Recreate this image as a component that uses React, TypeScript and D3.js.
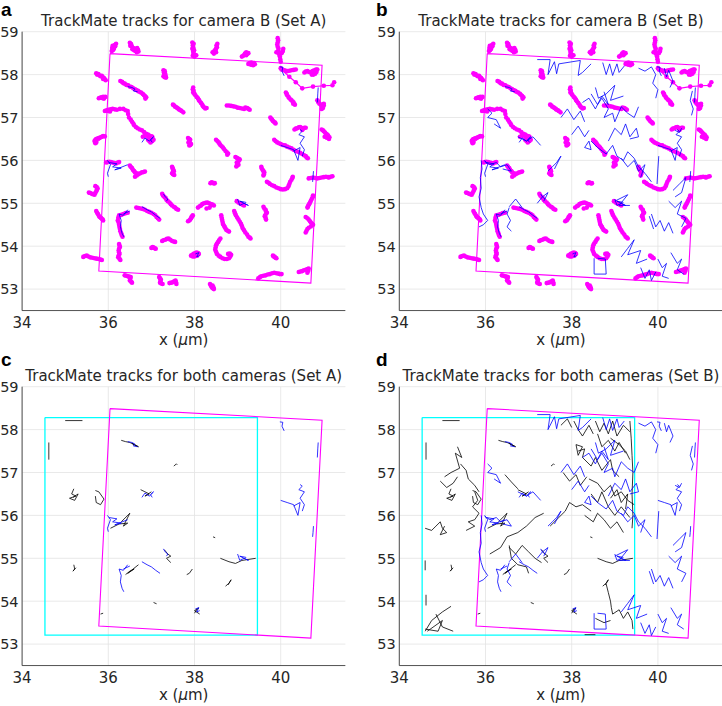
import React from 'react';
import * as d3 from 'd3';

type Pt = [number, number];
type Track = Pt[];

const xTicks = [34, 36, 38, 40];
const yTicks = [53, 54, 55, 56, 57, 58, 59];
const xDomain: [number, number] = [34, 41.5];
const yDomain: [number, number] = [52.5, 59];

const panelLetters = ['a', 'b', 'c', 'd'];
const panelTitles = [
  'TrackMate tracks for camera B (Set A)',
  'TrackMate tracks for camera B (Set B)',
  'TrackMate tracks for both cameras (Set A)',
  'TrackMate tracks for both cameras (Set B)',
];

const camBOutline: Track = [[36.04, 58.49], [40.96, 58.22], [40.7, 53.14], [35.78, 53.42], [36.04, 58.49]];
const camAOutline: Track = [[34.53, 58.28], [39.46, 58.28], [39.46, 53.21], [34.53, 53.21], [34.53, 58.28]];

// camera B tracks (magenta, with spots)
const magentaTracks: Track[] = [
  [[36.08, 58.55], [36.11, 58.58], [36.09, 58.62], [36.13, 58.64], [36.1, 58.67], [36.15, 58.69], [36.18, 58.72], [36.16, 58.66], [36.13, 58.6], [36.1, 58.57]],
  [[36.5, 58.74], [36.53, 58.71], [36.51, 58.67], [36.55, 58.65], [36.58, 58.62], [36.56, 58.59], [36.6, 58.57], [36.64, 58.6], [36.67, 58.62], [36.69, 58.58], [36.7, 58.54], [36.66, 58.52], [36.63, 58.55]],
  [[37.95, 58.75], [37.98, 58.72], [37.96, 58.68], [37.97, 58.64], [37.95, 58.6], [37.99, 58.57], [37.97, 58.53], [37.98, 58.49], [38.01, 58.46], [38.0, 58.42], [38.04, 58.45], [37.96, 58.44]],
  [[38.53, 58.72], [38.51, 58.68], [38.52, 58.64], [38.5, 58.6], [38.48, 58.57], [38.45, 58.54], [38.42, 58.52], [38.45, 58.49], [38.5, 58.52], [38.47, 58.55]],
  [[39.1, 58.42], [39.13, 58.44], [39.16, 58.46], [39.2, 58.45], [39.22, 58.48], [39.25, 58.5], [39.2, 58.52], [39.17, 58.49]],
  [[39.93, 58.85], [39.94, 58.8], [39.93, 58.75], [39.92, 58.7], [39.93, 58.65], [39.95, 58.6], [39.94, 58.55], [39.9, 58.52], [39.95, 58.5], [39.97, 58.46], [40.02, 58.5], [40.05, 58.55], [40.06, 58.6], [40.03, 58.52], [39.98, 58.42], [39.99, 58.36], [40.0, 58.3]],
  [[39.25, 58.25], [39.28, 58.27], [39.32, 58.28], [39.35, 58.25], [39.38, 58.27], [39.4, 58.24], [39.36, 58.22], [39.31, 58.23]],
  [[35.72, 58.03], [35.74, 58.0], [35.77, 58.01], [35.8, 57.98], [35.82, 57.96], [35.85, 57.97], [35.87, 57.94], [35.9, 57.92], [35.92, 57.89], [35.88, 57.9], [35.94, 57.87]],
  [[37.28, 58.1], [37.31, 58.08], [37.29, 58.05], [37.32, 58.02], [37.3, 57.99], [37.28, 57.96], [37.31, 57.94], [37.34, 57.93], [37.33, 57.97]],
  [[36.28, 57.85], [36.32, 57.83], [36.35, 57.8], [36.38, 57.79], [36.42, 57.76], [36.46, 57.75], [36.5, 57.72], [36.54, 57.71], [36.58, 57.68], [36.62, 57.66], [36.65, 57.64], [36.69, 57.62], [36.72, 57.6], [36.76, 57.58], [36.8, 57.55], [36.83, 57.52], [36.85, 57.5], [36.88, 57.47], [36.86, 57.44]],
  [[35.78, 57.45], [35.81, 57.46], [35.84, 57.47], [35.87, 57.45], [35.9, 57.44], [35.93, 57.48], [35.88, 57.48]],
  [[37.97, 57.7], [37.96, 57.66], [37.98, 57.62], [37.97, 57.58], [38.0, 57.55], [38.02, 57.52], [38.05, 57.48], [38.08, 57.45], [38.1, 57.41], [38.12, 57.38], [38.15, 57.34], [38.18, 57.3], [38.2, 57.26], [38.22, 57.24], [38.25, 57.21], [38.28, 57.22]],
  [[37.5, 57.3], [37.53, 57.28], [37.55, 57.25], [37.58, 57.24], [37.6, 57.22], [37.63, 57.2], [37.65, 57.18], [37.68, 57.17], [37.7, 57.15], [37.74, 57.12]],
  [[38.75, 57.28], [38.8, 57.28], [38.85, 57.27], [38.9, 57.26], [38.95, 57.25], [39.0, 57.23], [39.05, 57.22], [39.1, 57.21], [39.15, 57.2], [39.18, 57.23], [39.22, 57.22], [39.25, 57.2], [39.28, 57.18]],
  [[40.12, 57.58], [40.14, 57.55], [40.15, 57.52], [40.18, 57.48], [40.2, 57.45], [40.23, 57.42], [40.25, 57.4], [40.28, 57.37], [40.3, 57.35], [40.33, 57.3], [40.29, 57.32]],
  [[40.55, 58.05], [40.58, 58.07], [40.62, 58.08], [40.66, 58.06], [40.7, 58.06], [40.74, 58.08], [40.78, 58.1], [40.82, 58.12], [40.85, 58.12], [40.83, 58.06], [40.8, 58.02], [40.76, 58.0], [40.72, 58.0]],
  [[40.0, 58.15], [40.04, 58.12], [40.08, 58.1], [40.12, 58.09], [40.15, 58.08], [40.2, 58.09], [40.25, 58.1], [40.3, 58.11], [40.35, 58.12]],
  [[40.02, 58.12], [40.2, 57.95], [40.35, 57.82], [40.5, 57.68], [40.75, 57.72], [41.0, 57.74], [41.2, 57.75], [41.24, 57.82]],
  [[40.85, 57.4], [40.87, 57.37], [40.88, 57.35], [40.9, 57.32], [40.93, 57.3], [40.95, 57.27], [40.97, 57.25], [40.95, 57.2], [40.98, 57.22], [41.0, 57.28], [41.0, 57.32]],
  [[35.92, 57.15], [35.95, 57.16], [35.98, 57.17], [36.01, 57.15], [36.04, 57.14]],
  [[36.0, 57.18], [36.05, 57.19], [36.1, 57.2], [36.15, 57.19], [36.2, 57.18], [36.27, 57.2], [36.35, 57.2], [36.4, 57.17], [36.45, 57.15], [36.46, 57.08], [36.48, 57.0], [36.52, 56.95], [36.55, 56.9], [36.58, 56.86], [36.6, 56.82], [36.64, 56.78], [36.68, 56.75], [36.73, 56.72], [36.78, 56.7], [36.83, 56.66], [36.88, 56.62], [36.92, 56.6], [36.95, 56.58], [37.0, 56.56], [37.02, 56.55]],
  [[39.76, 57.0], [39.78, 56.97], [39.8, 56.95], [39.82, 56.92], [39.84, 56.9], [39.87, 56.88], [39.88, 56.86]],
  [[40.32, 56.72], [40.35, 56.74], [40.38, 56.75], [40.42, 56.77], [40.45, 56.78], [40.48, 56.76], [40.52, 56.74], [40.55, 56.76], [40.58, 56.76], [40.5, 56.71]],
  [[40.95, 56.72], [40.98, 56.7], [41.0, 56.68], [41.03, 56.65], [41.05, 56.62], [41.08, 56.6], [41.1, 56.58], [41.13, 56.54], [41.12, 56.5], [41.07, 56.53], [41.02, 56.55]],
  [[35.68, 56.45], [35.7, 56.48], [35.72, 56.5], [35.75, 56.51], [35.78, 56.52], [35.82, 56.54], [35.85, 56.55], [35.88, 56.57], [35.92, 56.56], [35.72, 56.42], [35.7, 56.4]],
  [[36.8, 56.55], [36.84, 56.57], [36.88, 56.58], [36.92, 56.57], [36.95, 56.56], [36.99, 56.54], [37.02, 56.52], [37.05, 56.48], [37.02, 56.45], [36.98, 56.42], [36.95, 56.45], [36.92, 56.48]],
  [[37.85, 56.52], [37.88, 56.5], [37.9, 56.48], [37.88, 56.45], [37.86, 56.42], [37.9, 56.4], [37.92, 56.38], [37.9, 56.36], [37.88, 56.35]],
  [[38.5, 56.48], [38.53, 56.45], [38.56, 56.42], [38.58, 56.39], [38.6, 56.36], [38.63, 56.33], [38.66, 56.3], [38.69, 56.26], [38.72, 56.22], [38.75, 56.19], [38.78, 56.16], [38.76, 56.13]],
  [[38.95, 56.08], [38.98, 56.06], [39.0, 56.05], [39.03, 56.03], [39.05, 56.02], [39.02, 55.98], [38.98, 55.95], [39.0, 55.92], [39.02, 55.9], [38.99, 55.88], [38.97, 55.86]],
  [[39.85, 56.48], [39.88, 56.45], [39.92, 56.42], [39.96, 56.4], [40.0, 56.38], [40.05, 56.36], [40.1, 56.35], [40.15, 56.32], [40.2, 56.3], [40.25, 56.28], [40.3, 56.25], [40.35, 56.22], [40.4, 56.2], [40.45, 56.18], [40.5, 56.15], [40.54, 56.12], [40.58, 56.1], [40.6, 56.07], [40.63, 56.05]],
  [[39.55, 55.85], [39.56, 55.81], [39.58, 55.78], [39.6, 55.75], [39.62, 55.72], [39.61, 55.68], [39.6, 55.65]],
  [[39.68, 55.5], [39.72, 55.48], [39.75, 55.45], [39.8, 55.42], [39.85, 55.4], [39.9, 55.37], [39.95, 55.35], [40.0, 55.33], [40.05, 55.32], [40.1, 55.33], [40.15, 55.35], [40.18, 55.4], [40.2, 55.45], [40.22, 55.5], [40.25, 55.55], [40.27, 55.59], [40.28, 55.62]],
  [[35.95, 55.95], [35.98, 55.96], [36.02, 55.97], [36.06, 55.96], [36.1, 55.95], [36.14, 55.94], [36.18, 55.93], [36.22, 55.95], [36.25, 55.96]],
  [[36.5, 55.88], [36.52, 55.85], [36.55, 55.82], [36.57, 55.78], [36.6, 55.75], [36.62, 55.72], [36.65, 55.7], [36.68, 55.69], [36.7, 55.68], [36.74, 55.7], [36.78, 55.72], [36.82, 55.73], [36.85, 55.74], [36.66, 55.65], [36.62, 55.62]],
  [[37.48, 55.85], [37.49, 55.82], [37.5, 55.8], [37.51, 55.77], [37.52, 55.75], [37.5, 55.72], [37.48, 55.7], [37.5, 55.68], [37.53, 55.66]],
  [[38.37, 55.47], [38.4, 55.49], [38.42, 55.48], [38.45, 55.46], [38.47, 55.47]],
  [[40.65, 55.58], [40.7, 55.59], [40.75, 55.6], [40.8, 55.59], [40.85, 55.58], [40.9, 55.59], [40.95, 55.6], [41.0, 55.61], [41.05, 55.62], [41.1, 55.61], [41.12, 55.6], [41.16, 55.62], [41.2, 55.63]],
  [[35.55, 55.25], [35.58, 55.24], [35.62, 55.22], [35.65, 55.21], [35.68, 55.2], [35.7, 55.24], [35.72, 55.28], [35.74, 55.32], [35.75, 55.35], [35.73, 55.38], [35.7, 55.4]],
  [[37.25, 55.22], [37.27, 55.18], [37.3, 55.15], [37.33, 55.12], [37.35, 55.08], [37.38, 55.05], [37.42, 55.02], [37.45, 54.98], [37.48, 54.95], [37.52, 54.92], [37.55, 54.9], [37.58, 54.87], [37.62, 54.85]],
  [[38.08, 54.9], [38.12, 54.93], [38.15, 54.95], [38.18, 54.98], [38.22, 55.0], [38.26, 55.01], [38.3, 55.02], [38.34, 55.0], [38.38, 54.98], [38.42, 54.97], [38.45, 54.95], [38.35, 54.9], [38.28, 54.88]],
  [[38.98, 55.05], [39.02, 55.02], [39.05, 55.0], [39.08, 54.99], [39.1, 54.98], [39.13, 54.96], [39.15, 54.95]],
  [[39.6, 54.92], [39.62, 54.88], [39.65, 54.85], [39.66, 54.81], [39.68, 54.78], [39.65, 54.74], [39.63, 54.7], [39.65, 54.66], [39.66, 54.62]],
  [[40.75, 55.18], [40.74, 55.14], [40.72, 55.1], [40.7, 55.06], [40.68, 55.02], [40.66, 54.98], [40.64, 54.95], [40.63, 54.92], [40.62, 54.9]],
  [[35.72, 54.82], [35.74, 54.78], [35.76, 54.75], [35.78, 54.71], [35.8, 54.68], [35.83, 54.66], [35.85, 54.64], [35.87, 54.62], [35.88, 54.6]],
  [[36.45, 54.78], [36.4, 54.77], [36.35, 54.75], [36.3, 54.73], [36.25, 54.72], [36.23, 54.66], [36.22, 54.6], [36.24, 54.55], [36.25, 54.5], [36.26, 54.45], [36.27, 54.4], [36.28, 54.35], [36.3, 54.3], [36.31, 54.26], [36.33, 54.22]],
  [[36.65, 54.9], [36.7, 54.89], [36.75, 54.88], [36.8, 54.87], [36.85, 54.85], [36.9, 54.82], [36.95, 54.8], [37.0, 54.78], [37.05, 54.75], [37.09, 54.72], [37.12, 54.68], [37.15, 54.65], [37.18, 54.62]],
  [[37.85, 54.58], [37.88, 54.6], [37.9, 54.62], [37.92, 54.65], [37.93, 54.68], [37.95, 54.7], [37.96, 54.72]],
  [[38.62, 54.72], [38.63, 54.67], [38.64, 54.62], [38.65, 54.57], [38.66, 54.52], [38.68, 54.48], [38.7, 54.45], [38.72, 54.41], [38.74, 54.38], [38.77, 54.36], [38.8, 54.34]],
  [[38.92, 54.82], [38.94, 54.77], [38.96, 54.72], [38.99, 54.67], [39.02, 54.62], [39.05, 54.57], [39.08, 54.52], [39.1, 54.47], [39.12, 54.42], [39.15, 54.37], [39.18, 54.32], [39.22, 54.27], [39.25, 54.22], [39.28, 54.2], [39.3, 54.18]],
  [[40.58, 54.68], [40.62, 54.65], [40.65, 54.62], [40.68, 54.58], [40.7, 54.55], [40.73, 54.52], [40.75, 54.5], [40.7, 54.46], [40.65, 54.43], [40.62, 54.4], [40.6, 54.36], [40.58, 54.32]],
  [[36.25, 54.05], [36.26, 54.01], [36.27, 53.98], [36.25, 53.94], [36.24, 53.9], [36.25, 53.86], [36.26, 53.82], [36.24, 53.78], [36.23, 53.74], [36.26, 53.71], [36.28, 53.68]],
  [[37.0, 53.96], [37.03, 53.98], [37.05, 53.97], [37.08, 53.95], [37.1, 53.94]],
  [[37.25, 54.12], [37.28, 54.14], [37.32, 54.15], [37.36, 54.17], [37.4, 54.18], [37.44, 54.15], [37.48, 54.12], [37.52, 54.11], [37.55, 54.1]],
  [[37.92, 53.78], [37.95, 53.8], [37.98, 53.82], [38.02, 53.84], [38.05, 53.85], [38.08, 53.84], [38.1, 53.82], [38.06, 53.78], [38.0, 53.76], [37.96, 53.76]],
  [[38.6, 54.18], [38.57, 54.14], [38.55, 54.1], [38.52, 54.06], [38.5, 54.02], [38.49, 53.97], [38.48, 53.92], [38.5, 53.87], [38.52, 53.82], [38.56, 53.78], [38.6, 53.75], [38.65, 53.72], [38.7, 53.7], [38.75, 53.7], [38.8, 53.72], [38.83, 53.76], [38.85, 53.8], [38.82, 53.83], [38.78, 53.82]],
  [[39.82, 53.78], [39.84, 53.76], [39.86, 53.75], [39.88, 53.73], [39.9, 53.72]],
  [[35.42, 53.75], [35.46, 53.77], [35.5, 53.78], [35.54, 53.76], [35.58, 53.74], [35.63, 53.73], [35.68, 53.72], [35.73, 53.71], [35.78, 53.7], [35.82, 53.69], [35.85, 53.68]],
  [[36.38, 53.32], [36.42, 53.31], [36.45, 53.3], [36.48, 53.29], [36.52, 53.28], [36.51, 53.24], [36.5, 53.2], [36.53, 53.17], [36.55, 53.15]],
  [[37.18, 53.28], [37.2, 53.25], [37.22, 53.22], [37.21, 53.18], [37.2, 53.15], [37.23, 53.13], [37.26, 53.12]],
  [[37.42, 53.14], [37.46, 53.15], [37.5, 53.16], [37.53, 53.18], [37.56, 53.2], [37.57, 53.16], [37.58, 53.12]],
  [[38.36, 53.12], [38.38, 53.08], [38.4, 53.05], [38.42, 53.02], [38.45, 53.0], [38.44, 53.04], [38.42, 53.08]],
  [[39.48, 53.25], [39.52, 53.28], [39.55, 53.3], [39.6, 53.31], [39.65, 53.32], [39.7, 53.34], [39.75, 53.35], [39.8, 53.37], [39.85, 53.38], [39.9, 53.37], [39.95, 53.36], [39.98, 53.35], [40.02, 53.35]],
  [[40.42, 53.4], [40.46, 53.41], [40.5, 53.42], [40.54, 53.44], [40.58, 53.45], [40.62, 53.47], [40.65, 53.48], [40.64, 53.43], [40.62, 53.38]],
];

// blue tracks, Set A
const blueTracksSetA: Track[] = [
  [[36.45, 57.72], [36.55, 57.7], [36.62, 57.66], [36.58, 57.62], [36.68, 57.6]],
  [[36.78, 56.42], [36.85, 56.52], [36.95, 56.45], [37.05, 56.55], [36.98, 56.48], [37.02, 56.42]],
  [[35.98, 56.0], [36.05, 55.9], [35.98, 55.7], [36.0, 55.62]],
  [[36.02, 55.95], [36.2, 55.92], [36.1, 55.85], [36.3, 55.82], [36.15, 55.78], [36.45, 55.9]],
  [[36.45, 54.85], [36.35, 54.72], [36.25, 54.75], [36.3, 54.6], [36.28, 54.45], [36.32, 54.3], [36.36, 54.22]],
  [[36.35, 54.75], [36.5, 54.82]],
  [[36.78, 54.92], [36.9, 54.85], [37.0, 54.8], [37.1, 54.72], [37.2, 54.65]],
  [[37.28, 55.22], [37.32, 55.15], [37.38, 55.1], [37.35, 55.05]],
  [[39.0, 55.1], [39.05, 54.95], [39.15, 55.0], [39.25, 54.95], [39.05, 55.05], [39.2, 55.02]],
  [[40.45, 56.72], [40.5, 56.68], [40.42, 56.6], [40.55, 56.55], [40.45, 56.4], [40.55, 56.25], [40.5, 56.1]],
  [[40.0, 56.35], [40.15, 56.3], [40.3, 56.25], [40.4, 56.0], [40.45, 56.3], [40.3, 56.22]],
  [[39.98, 58.18], [40.05, 58.17], [40.03, 58.08], [40.08, 57.97]],
  [[40.87, 57.7], [40.86, 57.55], [40.85, 57.35]],
  [[40.76, 55.75], [40.75, 55.6], [40.74, 55.5]],
  [[38.02, 53.82], [38.1, 53.85], [38.05, 53.75], [38.12, 53.78]],
];

// additional blue tracks, Set B
const blueTracksSetBExtra: Track[] = [
  [[37.2, 58.35], [37.5, 58.35], [37.45, 58.0], [37.6, 58.3], [37.65, 58.02], [37.7, 58.25], [38.2, 58.33], [38.15, 57.98], [38.25, 58.05], [38.45, 58.25]],
  [[38.72, 58.28], [38.8, 58.0], [38.88, 58.25], [38.95, 57.98], [39.05, 58.25], [39.1, 58.05], [39.22, 58.2]],
  [[39.55, 58.15], [39.7, 58.08], [39.85, 58.18], [39.95, 58.0], [39.88, 57.8], [40.0, 57.65], [39.95, 57.45]],
  [[40.15, 58.15], [40.2, 57.95], [40.25, 58.1], [40.35, 57.85], [40.28, 57.7]],
  [[40.8, 57.62], [40.75, 57.4], [40.82, 57.2], [40.78, 57.05]],
  [[38.45, 57.55], [38.6, 57.3], [38.7, 57.45], [38.85, 57.2], [38.75, 57.0], [38.95, 57.1], [39.0, 56.9], [39.15, 57.25], [39.3, 57.1], [39.45, 57.0], [39.55, 57.25]],
  [[38.55, 57.7], [38.62, 57.45], [38.8, 57.55], [39.0, 57.75], [38.9, 57.4], [39.2, 57.5]],
  [[38.25, 57.35], [38.4, 57.45], [38.55, 57.2], [38.7, 57.5], [38.85, 57.3], [38.75, 57.6]],
  [[37.75, 57.0], [37.9, 57.2], [38.05, 56.95], [38.2, 57.15], [38.3, 56.9]],
  [[38.0, 56.6], [38.15, 56.8], [38.3, 56.55], [38.4, 56.7]],
  [[38.85, 56.45], [39.0, 56.75], [39.15, 56.6], [39.25, 56.85], [39.35, 56.55], [39.5, 56.75], [39.55, 56.55], [39.35, 56.5]],
  [[38.45, 56.45], [38.6, 56.3], [38.8, 56.15], [38.95, 56.35], [39.05, 56.1], [39.2, 56.0], [39.3, 56.2], [39.45, 56.05], [39.55, 55.85], [39.7, 55.7], [39.85, 55.5]],
  [[39.15, 56.05], [39.3, 55.85], [39.45, 56.0], [39.55, 55.75], [39.7, 55.9], [39.6, 55.6]],
  [[38.3, 56.3], [38.4, 56.45], [38.45, 56.25], [38.3, 56.3]],
  [[36.05, 57.2], [36.15, 57.1], [36.05, 57.0], [36.25, 56.95], [36.35, 56.75], [36.2, 56.85]],
  [[36.75, 56.55], [36.95, 56.45], [37.1, 56.55], [37.28, 56.35]],
  [[35.98, 55.98], [36.1, 55.9], [36.25, 55.95], [36.35, 55.85], [36.5, 55.9], [36.6, 55.75], [36.4, 55.8]],
  [[35.9, 56.0], [35.92, 55.8], [35.88, 55.6], [35.9, 55.35], [35.85, 55.15], [35.9, 54.9], [35.95, 54.75], [36.05, 54.6], [35.95, 54.5], [35.85, 54.45]],
  [[36.55, 54.9], [36.5, 54.75], [36.58, 54.6], [36.5, 54.45], [36.6, 54.35]],
  [[36.55, 54.92], [36.7, 55.1], [36.85, 54.9]],
  [[37.45, 55.75], [37.55, 55.85], [37.65, 55.95], [37.75, 56.1], [37.6, 55.8]],
  [[37.2, 55.0], [37.32, 55.15], [37.45, 55.25], [37.38, 55.1]],
  [[39.0, 55.05], [39.3, 55.2], [39.1, 54.95], [39.35, 54.95]],
  [[38.52, 53.72], [38.52, 53.35], [38.8, 53.35], [38.78, 53.7], [38.6, 53.72]],
  [[39.15, 53.75], [39.3, 53.95], [39.45, 54.15], [39.3, 53.8], [39.6, 53.9], [39.5, 53.6], [39.75, 53.7]],
  [[39.6, 53.5], [39.7, 53.25], [39.8, 53.45], [39.85, 53.2], [39.95, 53.4]],
  [[40.0, 53.7], [40.1, 53.5], [40.2, 53.6], [40.1, 53.3], [40.25, 53.25]],
  [[40.3, 53.85], [40.45, 53.6], [40.55, 53.7], [40.45, 53.45], [40.6, 53.35]],
  [[39.85, 54.75], [39.95, 54.45], [40.05, 54.6], [40.15, 54.35], [40.25, 54.55], [40.35, 54.3]],
  [[40.25, 55.05], [40.4, 54.9], [40.55, 55.05], [40.45, 54.75], [40.65, 54.65], [40.55, 54.45]],
  [[40.35, 55.3], [40.5, 55.45], [40.65, 55.6], [40.55, 55.25], [40.4, 55.15]],
  [[40.02, 56.1], [40.0, 55.8], [39.98, 55.45]],
  [[39.8, 54.7], [39.9, 54.4]],
  [[40.4, 56.7], [40.5, 56.65], [40.55, 56.75]],
];

// black tracks, Set A
const blackTracksSetA: Track[] = [
  [[35.0, 58.21], [35.4, 58.21]],
  [[34.62, 57.7], [34.62, 57.3]],
  [[36.3, 57.75], [36.4, 57.72], [36.5, 57.7], [36.6, 57.65], [36.7, 57.6], [36.55, 57.68], [36.65, 57.62]],
  [[37.52, 57.15], [37.58, 57.2], [37.6, 57.18]],
  [[35.2, 56.62], [35.15, 56.5], [35.25, 56.45], [35.1, 56.4], [35.22, 56.35], [35.3, 56.5], [35.18, 56.42]],
  [[35.7, 56.58], [35.78, 56.55], [35.9, 56.38], [35.82, 56.25], [35.72, 56.3], [35.7, 56.45]],
  [[36.75, 56.6], [36.85, 56.55], [36.95, 56.5], [36.85, 56.45], [37.0, 56.55]],
  [[36.05, 55.7], [36.25, 55.8], [36.45, 55.82], [36.35, 55.75], [36.5, 56.05], [36.3, 55.85]],
  [[35.2, 54.85], [35.22, 54.75], [35.18, 54.7], [35.25, 54.78]],
  [[35.82, 53.7], [35.88, 53.72]],
  [[36.4, 54.62], [36.5, 54.7], [36.6, 54.75], [36.45, 54.65], [36.7, 54.85]],
  [[37.3, 55.2], [37.38, 55.1], [37.45, 55.05], [37.35, 55.0], [37.45, 54.9]],
  [[37.05, 53.97], [37.12, 53.94]],
  [[37.82, 54.62], [37.88, 54.65], [37.95, 54.75]],
  [[38.43, 55.5], [38.48, 55.48]],
  [[38.0, 53.72], [38.05, 53.8], [38.1, 53.84], [38.0, 53.78], [38.12, 53.7]],
  [[38.72, 54.35], [38.8, 54.42], [38.85, 54.5], [38.78, 54.38]],
  [[38.6, 55.0], [38.8, 54.92], [38.95, 54.88], [39.1, 54.95], [39.42, 55.0]],
];

// additional black tracks, Set B
const blackTracksSetBExtra: Track[] = [
  [[35.35, 57.6], [35.45, 57.35], [35.3, 57.45], [35.4, 57.1], [35.2, 57.0], [35.05, 56.9]],
  [[35.42, 57.2], [35.55, 57.05], [35.6, 56.85], [35.75, 56.7], [35.85, 56.55]],
  [[34.95, 56.8], [35.1, 56.65], [35.25, 56.75], [35.35, 56.9]],
  [[35.75, 56.55], [35.82, 56.35], [35.7, 56.2], [35.85, 56.05], [35.75, 55.9], [35.6, 55.85], [35.75, 55.75], [35.55, 55.65]],
  [[34.6, 55.7], [34.75, 55.65], [34.85, 55.75], [34.95, 55.85], [35.0, 55.7], [35.1, 55.6], [34.95, 55.55], [35.05, 55.75]],
  [[34.6, 54.95], [34.6, 54.72]],
  [[34.62, 54.15], [34.62, 53.9]],
  [[34.6, 53.3], [34.75, 53.55], [35.0, 53.75], [35.2, 53.88]],
  [[34.65, 53.3], [35.0, 53.55], [34.9, 53.3], [34.6, 53.35]],
  [[34.85, 53.7], [35.0, 53.4], [35.25, 53.3]],
  [[36.1, 55.1], [36.35, 55.25], [36.5, 55.5], [36.75, 55.6], [36.95, 55.75], [37.15, 55.95], [37.35, 56.05]],
  [[36.55, 55.25], [36.7, 55.1], [36.85, 55.3], [37.0, 55.15], [37.15, 55.0], [37.3, 54.9]],
  [[36.55, 55.3], [36.6, 55.0], [36.75, 54.85], [36.95, 54.8], [37.0, 54.65]],
  [[37.5, 55.75], [37.7, 55.95], [37.85, 56.1], [37.95, 56.3], [38.1, 56.2], [38.25, 56.25], [38.45, 56.1]],
  [[36.45, 56.95], [36.6, 56.78], [36.75, 56.62]],
  [[38.05, 58.2], [38.15, 58.0], [38.25, 57.85], [38.4, 58.1], [38.5, 57.9]],
  [[38.55, 58.2], [38.65, 57.95], [38.75, 58.15], [38.85, 57.9], [38.95, 58.2], [39.05, 57.85], [39.2, 58.1], [39.35, 57.95]],
  [[38.15, 57.5], [38.3, 57.55], [38.25, 57.35], [38.45, 57.15], [38.55, 57.35], [38.7, 57.05], [38.9, 57.3], [38.95, 57.05], [39.1, 56.9]],
  [[38.4, 56.85], [38.6, 56.75], [38.75, 56.55], [38.9, 56.7], [39.0, 56.45], [39.15, 56.55], [39.3, 56.35], [39.45, 56.25]],
  [[38.45, 56.5], [38.6, 56.3], [38.7, 56.55], [38.85, 56.2], [39.0, 56.0], [39.15, 56.2], [39.35, 55.95]],
  [[39.35, 58.2], [39.38, 57.8], [39.4, 57.4], [39.42, 57.0], [39.4, 56.5], [39.42, 56.0], [39.4, 55.7]],
  [[38.9, 57.8], [39.1, 57.65], [39.25, 57.5], [39.35, 57.3]],
  [[37.75, 58.1], [37.9, 58.25], [38.0, 58.05]],
  [[38.1, 57.65], [38.25, 57.6], [38.15, 57.4], [38.1, 57.65]],
  [[37.8, 57.0], [37.95, 56.8], [38.1, 56.95], [38.2, 56.7], [38.35, 56.9]],
  [[38.6, 57.9], [38.7, 57.6], [38.85, 57.75], [39.0, 57.5], [39.1, 57.7], [39.25, 57.45]],
  [[38.3, 56.0], [38.5, 55.85], [38.6, 56.05], [38.75, 55.9], [38.9, 55.7], [39.05, 55.85], [39.2, 55.6]],
  [[38.9, 56.4], [39.05, 56.6], [39.15, 56.3], [39.3, 56.5], [39.25, 56.15]],
  [[38.8, 54.4], [38.85, 54.2], [38.9, 54.0], [38.92, 53.85], [38.95, 53.7], [39.1, 53.8], [39.2, 53.6], [39.3, 53.75], [39.4, 53.55], [39.42, 53.35]],
  [[38.55, 53.6], [38.75, 53.5], [38.9, 53.55]],
  [[38.3, 53.22], [38.55, 53.22]],
];

const blueTracksSetB: Track[] = [...blueTracksSetA, ...blueTracksSetBExtra];
const blackTracksSetB: Track[] = [...blackTracksSetA, ...blackTracksSetBExtra];

const FONT = '"DejaVu Sans", sans-serif';
const PX_X = 43.1;
const PX_Y = 42.9;

interface PanelProps {
  idx: number;
  ox: number;
  oy: number;
  showMagenta: boolean;
  showCamA: boolean;
  blue: Track[];
  black: Track[];
}

function Panel({ idx, ox, oy, showMagenta, showCamA, blue, black }: PanelProps) {
  const w = (xDomain[1] - xDomain[0]) * PX_X;
  const h = (yDomain[1] - yDomain[0]) * PX_Y;
  const x = d3.scaleLinear().domain(xDomain).range([ox, ox + w]);
  const y = d3.scaleLinear().domain(yDomain).range([oy + h, oy]);
  const line = d3.line<Pt>().x((d) => x(d[0])).y((d) => y(d[1]));
  const clipId = `clip-${idx}`;
  const cx = ox + w / 2;
  return (
    <g>
      <defs>
        <clipPath id={clipId}>
          <rect x={ox} y={oy} width={w} height={h} />
        </clipPath>
      </defs>
      {xTicks.map((t) => (
        <line key={`gx${t}`} x1={x(t)} x2={x(t)} y1={oy} y2={oy + h} stroke="#e3e3e3" strokeWidth={0.8} />
      ))}
      {yTicks.map((t) => (
        <line key={`gy${t}`} x1={ox} x2={ox + w} y1={y(t)} y2={y(t)} stroke="#e3e3e3" strokeWidth={0.8} />
      ))}
      <g clipPath={`url(#${clipId})`}>
        {showCamA && <path d={line(camAOutline) || ''} fill="none" stroke="#00ffff" strokeWidth={1.3} />}
        <path d={line(camBOutline) || ''} fill="none" stroke="#ff00ff" strokeWidth={1.1} />
        {showMagenta &&
          magentaTracks.map((tr, i) => (
            <g key={`m${i}`}>
              <path d={line(tr) || ''} fill="none" stroke="#ff00ff" strokeWidth={1.2} />
              {tr.map((p, j) => (
                <circle key={j} cx={x(p[0])} cy={y(p[1])} r={2.3} fill="#ff00ff" />
              ))}
            </g>
          ))}
        {black.map((tr, i) => (
          <path key={`k${i}`} d={line(tr) || ''} fill="none" stroke="#000000" strokeWidth={0.8} />
        ))}
        {blue.map((tr, i) => (
          <path key={`b${i}`} d={line(tr) || ''} fill="none" stroke="#0000ff" strokeWidth={0.8} />
        ))}
      </g>
      <line x1={ox} x2={ox} y1={oy} y2={oy + h} stroke="#262626" strokeWidth={0.8} />
      <line x1={ox} x2={ox + w} y1={oy + h} y2={oy + h} stroke="#262626" strokeWidth={0.8} />
      {xTicks.map((t) => (
        <text key={`tx${t}`} x={x(t)} y={oy + h + 17.5} textAnchor="middle" fontFamily={FONT} fontSize={15} fill="#262626">
          {t}
        </text>
      ))}
      {yTicks.map((t) => (
        <text key={`ty${t}`} x={ox - 3.5} y={y(t) + 5.3} textAnchor="end" fontFamily={FONT} fontSize={14.5} fill="#262626">
          {t}
        </text>
      ))}
      <text x={cx} y={oy + h + 34.5} textAnchor="middle" fontFamily={FONT} fontSize={15} fill="#262626">
        x (<tspan fontStyle="italic">μ</tspan>m)
      </text>
      <text x={cx} y={oy - 6} textAnchor="middle" fontFamily={FONT} fontSize={15} fill="#262626">
        {panelTitles[idx]}
      </text>
    </g>
  );
}

export default function App() {
  const panels = [
    { ox: 22.1, oy: 31.7, showMagenta: true, showCamA: false, blue: blueTracksSetA, black: [] as Track[] },
    { ox: 399.3, oy: 31.7, showMagenta: true, showCamA: false, blue: blueTracksSetB, black: [] as Track[] },
    { ox: 22.1, oy: 386.7, showMagenta: false, showCamA: true, blue: blueTracksSetA, black: blackTracksSetA },
    { ox: 399.3, oy: 386.7, showMagenta: false, showCamA: true, blue: blueTracksSetB, black: blackTracksSetB },
  ];
  const letterPos: Pt[] = [[1, 16], [376, 16], [1, 366], [376, 366]];
  return (
    <svg
      width={722}
      height={706}
      style={{ position: 'absolute', left: 0, top: 0, background: '#ffffff' }}
    >
      <rect x={0} y={0} width={722} height={706} fill="#ffffff" />
      {panels.map((p, i) => (
        <Panel key={i} idx={i} {...p} />
      ))}
      {panelLetters.map((l, i) => (
        <text key={l} x={letterPos[i][0]} y={letterPos[i][1]} fontFamily='"Liberation Sans", Arial, sans-serif' fontWeight="bold" fontSize={19} fill="#000">
          {l}
        </text>
      ))}
    </svg>
  );
}
